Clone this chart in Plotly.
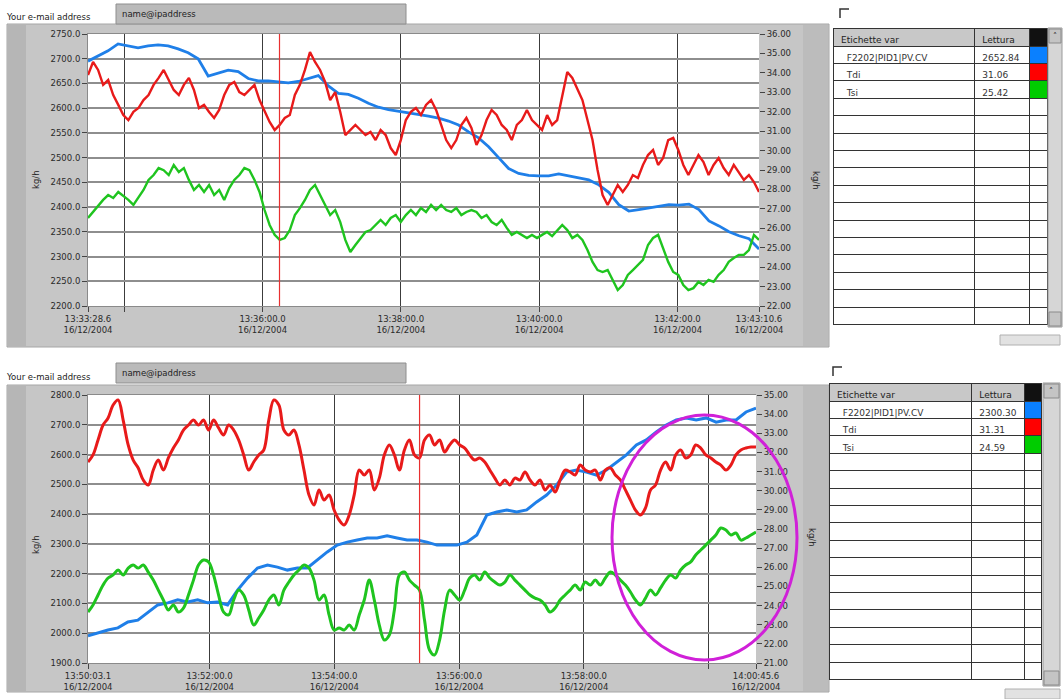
import plotly.graph_objects as go
import pandas as pd

# ---------------- data ----------------
DATE = "2004-12-16 "
TOP_START, TOP_END = DATE + "13:33:28.6", DATE + "13:43:10.6"
BOT_START, BOT_END = DATE + "13:50:03.1", DATE + "14:00:45.6"

top_tick_times = ["13:33:28.6", "13:34:00.0", "13:36:00.0", "13:38:00.0", "13:40:00.0", "13:42:00.0", "13:43:10.6"]
top_tick_labels = ["13:33:28.6", "", "13:36:00.0", "13:38:00.0", "13:40:00.0", "13:42:00.0", "13:43:10.6"]
bot_tick_times = ["13:50:03.1", "13:52:00.0", "13:54:00.0", "13:56:00.0", "13:58:00.0", "14:00:00.0", "14:00:45.6"]
bot_tick_labels = ["13:50:03.1", "13:52:00.0", "13:54:00.0", "13:56:00.0", "13:58:00.0", "", "14:00:45.6"]
date_label = "16/12/2004"

top_cursor = DATE + "13:36:14.7"
bot_cursor = DATE + "13:55:22.0"

# top graph: flow (left axis), temperatures (right axis)
top_flow = [2695, 2705, 2716, 2730, 2726, 2722, 2726, 2728, 2726, 2720, 2712, 2700,
            2665, 2671, 2677, 2674, 2660, 2655, 2655, 2653, 2651, 2654, 2660, 2666,
            2645, 2630, 2628, 2620, 2610, 2602, 2597, 2594, 2590, 2588, 2584, 2580,
            2574, 2566, 2552, 2540, 2522, 2500, 2478, 2468, 2464, 2463, 2463, 2467,
            2463, 2459, 2455, 2445, 2430, 2405, 2392, 2395, 2398, 2402, 2405, 2404,
            2406, 2395, 2372, 2362, 2350, 2342, 2336, 2315]
top_tdi = [33.89, 34.56, 34.15, 33.38, 33.63, 32.86, 32.35, 31.83, 31.57, 31.99, 32.19, 32.60,
           32.86, 33.38, 33.74, 34.15, 33.63, 33.12, 32.86, 33.38, 33.74, 33.12, 32.19, 32.35,
           31.99, 31.68, 32.09, 32.86, 33.38, 33.53, 33.01, 32.86, 33.12, 33.38, 32.60, 31.99,
           31.47, 31.06, 31.32, 31.68, 31.83, 32.86, 33.38, 34.15, 35.07, 34.56, 34.15, 33.53,
           32.60, 33.01, 31.99, 30.80, 31.06, 31.32, 31.06, 30.80, 30.96, 30.54, 31.06, 30.80,
           30.13, 29.77, 30.54, 31.57, 31.99, 32.19, 31.83, 32.35, 32.60, 32.09, 31.32, 30.54,
           30.13, 30.54, 31.32, 31.68, 31.16, 30.29, 30.80, 31.57, 32.09, 31.83, 31.32, 31.06,
           30.54, 31.32, 31.57, 32.09, 31.57, 31.32, 31.06, 31.83, 31.32, 31.57, 32.86, 34.04,
           33.74, 33.12, 32.60, 31.57, 30.54, 29.00, 27.71, 27.20, 27.71, 28.23, 27.87, 28.23,
           28.74, 28.59, 29.26, 29.77, 30.03, 29.26, 29.62, 30.54, 30.65, 30.03, 29.26, 28.74,
           29.26, 29.77, 29.41, 28.74, 29.26, 29.62, 29.10, 28.74, 29.26, 28.90, 28.49, 28.74,
           28.38, 27.87]
top_tsi = [26.53, 26.84, 27.20, 27.46, 27.71, 27.56, 27.87, 27.66, 27.46, 27.20, 27.56, 27.97,
           28.49, 28.74, 29.10, 28.99, 28.74, 29.26, 28.90, 29.10, 28.49, 27.97, 28.23, 27.87,
           28.23, 27.71, 27.97, 27.46, 28.07, 28.49, 28.74, 29.10, 28.99, 28.49, 27.87, 26.94,
           26.17, 25.66, 25.40, 25.50, 25.91, 26.68, 27.04, 27.46, 27.97, 28.23, 27.71, 27.20,
           26.68, 26.94, 26.32, 25.40, 24.78, 25.14, 25.50, 25.81, 25.91, 26.17, 26.43, 26.17,
           26.53, 26.68, 26.32, 26.68, 26.94, 26.68, 27.04, 26.84, 27.20, 26.94, 27.20, 26.94,
           26.84, 27.04, 26.68, 26.84, 26.94, 26.84, 26.53, 26.68, 26.32, 26.17, 26.43, 26.02,
           25.66, 25.81, 25.66, 25.50, 25.66, 25.50, 25.66, 25.81, 25.60, 25.91, 26.17, 25.91,
           25.50, 25.66, 25.40, 24.88, 24.27, 23.85, 23.75, 23.85, 23.34, 22.82, 23.08, 23.60,
           23.85, 24.11, 24.37, 25.14, 25.50, 25.66, 24.99, 24.27, 23.75, 23.60, 23.08, 22.82,
           22.92, 23.24, 23.08, 23.34, 23.24, 23.60, 23.85, 24.27, 24.47, 24.63, 24.63, 24.88,
           25.66, 25.40]

# bottom graph
bot_flow = [1991, 2001, 2011, 2018, 2038, 2044, 2071, 2095, 2102, 2112, 2105, 2112,
            2102, 2105, 2095, 2145, 2185, 2219, 2229, 2222, 2212, 2219, 2219, 2246,
            2273, 2296, 2306, 2313, 2320, 2320, 2327, 2320, 2313, 2313, 2306, 2296,
            2296, 2296, 2306, 2330, 2397, 2407, 2414, 2407, 2414, 2441, 2464, 2498,
            2541, 2548, 2541, 2531, 2548, 2575, 2599, 2632, 2649, 2676, 2699, 2716,
            2723, 2716, 2723, 2709, 2716, 2716, 2743, 2756]
bot_tdi = [31.50, 31.87, 32.65, 33.43, 33.80, 34.48, 34.74, 33.69, 32.39, 31.60, 31.19, 30.56,
           30.30, 31.08, 31.60, 31.08, 31.71, 32.23, 32.65, 33.17, 33.43, 33.69, 33.43, 33.69,
           33.17, 33.69, 33.28, 32.91, 33.43, 33.17, 32.65, 31.87, 31.08, 31.50, 31.87, 32.13,
           33.69, 34.74, 34.48, 33.17, 32.91, 33.17, 32.39, 31.08, 29.78, 29.25, 30.04, 29.51,
           29.78, 28.99, 28.47, 28.21, 28.73, 29.78, 31.08, 30.82, 31.08, 30.04, 30.66, 31.87,
           32.39, 31.87, 31.08, 32.13, 32.65, 31.87, 31.71, 32.65, 32.91, 32.39, 32.65, 32.02,
           32.39, 32.65, 32.39, 32.23, 31.87, 31.60, 31.71, 31.50, 31.08, 30.66, 30.30, 30.56,
           30.30, 30.66, 30.56, 30.98, 30.56, 30.30, 30.56, 30.04, 30.30, 29.93, 30.56, 31.08,
           30.98, 30.82, 31.34, 31.08, 30.98, 31.08, 30.56, 31.08, 31.19, 30.82, 30.56, 30.04,
           29.51, 28.99, 28.73, 29.10, 30.04, 30.30, 31.08, 31.50, 31.08, 31.87, 32.13, 31.71,
           31.87, 32.39, 32.23, 31.87, 31.71, 31.50, 31.34, 31.08, 31.34, 31.87, 32.13, 32.23,
           32.28, 32.28]
bot_tsi = [23.66, 24.03, 24.55, 25.07, 25.44, 25.60, 25.86, 25.60, 25.96, 26.12, 25.96, 26.12,
           25.75, 25.33, 24.81, 24.29, 23.77, 24.03, 23.66, 23.87, 24.55, 25.33, 26.12, 26.38,
           26.28, 25.60, 24.55, 23.66, 23.51, 24.29, 24.81, 24.55, 23.77, 22.98, 23.35, 23.77,
           24.29, 24.55, 24.03, 24.81, 25.23, 25.60, 25.86, 26.12, 25.96, 25.33, 24.29, 24.55,
           23.51, 22.72, 22.83, 22.72, 22.98, 22.72, 23.51, 24.29, 25.33, 24.29, 22.98, 22.20,
           22.46, 23.77, 25.60, 25.75, 25.33, 25.07, 24.81, 23.24, 21.68, 21.42, 22.20, 23.77,
           24.81, 24.55, 24.29, 24.81, 25.44, 25.60, 25.33, 25.75, 25.44, 25.23, 25.07, 25.23,
           25.60, 25.33, 25.07, 24.81, 24.55, 24.39, 24.29, 24.03, 23.66, 23.87, 24.29, 24.55,
           24.81, 25.07, 24.81, 25.23, 25.07, 25.33, 25.07, 25.44, 25.75, 25.60, 25.33, 25.07,
           24.71, 24.29, 24.03, 24.39, 24.81, 24.55, 24.92, 25.33, 25.60, 25.44, 25.86, 26.12,
           26.28, 26.64, 26.90, 27.16, 27.42, 27.69, 28.05, 27.95, 27.69, 27.79, 27.42, 27.53,
           27.69, 27.84]

series_names = ["F2202|PID1|PV.CV", "Tdi", "Tsi"]
top_readings = ["2652.84", "31.06", "25.42"]
bot_readings = ["2300.30", "31.31", "24.59"]
series_colors = ["#1f7fe8", "#e81a1a", "#1fc41f"]
swatch_colors = ["#0a80ff", "#ff0000", "#00cc00"]

# ---------------- helpers ----------------
W, H = 1064, 699
def px(x): return x / W
def py(y): return 1 - y / H
def tms(start, end, n): return pd.date_range(pd.Timestamp(start), pd.Timestamp(end), periods=n)

FONT = "DejaVu Sans"
fig = go.Figure()

# top traces
fig.add_trace(go.Scatter(x=tms(TOP_START, TOP_END, len(top_flow)), y=top_flow, mode="lines",
                         line=dict(color=series_colors[0], width=2.8), xaxis="x", yaxis="y"))
fig.add_trace(go.Scatter(x=tms(TOP_START, TOP_END, len(top_tdi)), y=top_tdi, mode="lines",
                         line=dict(color=series_colors[1], width=2.4), xaxis="x", yaxis="y2"))
fig.add_trace(go.Scatter(x=tms(TOP_START, TOP_END, len(top_tsi)), y=top_tsi, mode="lines",
                         line=dict(color=series_colors[2], width=2.4), xaxis="x", yaxis="y2"))
# bottom traces
fig.add_trace(go.Scatter(x=tms(BOT_START, BOT_END, len(bot_flow)), y=bot_flow, mode="lines",
                         line=dict(color=series_colors[0], width=3), xaxis="x2", yaxis="y3"))
fig.add_trace(go.Scatter(x=tms(BOT_START, BOT_END, len(bot_tdi)), y=bot_tdi, mode="lines",
                         line=dict(color=series_colors[1], width=3, shape="spline"), xaxis="x2", yaxis="y4"))
fig.add_trace(go.Scatter(x=tms(BOT_START, BOT_END, len(bot_tsi)), y=bot_tsi, mode="lines",
                         line=dict(color=series_colors[2], width=3, shape="spline"), xaxis="x2", yaxis="y4"))

# tables
def add_table(x0, x1, y0, y1, readings, widths):
    nrows = 16
    col1 = ["  " + s for s in series_names] + [""] * (nrows - 3)
    col2 = readings + [""] * (nrows - 3)
    col3 = [""] * nrows
    fills = [["white"] * nrows, ["white"] * nrows, swatch_colors + ["white"] * (nrows - 3)]
    fig.add_trace(go.Table(
        domain=dict(x=[px(x0), px(x1)], y=[py(y1), py(y0)]),
        columnwidth=widths,
        header=dict(values=["Etichette var", "Lettura", ""], height=18,
                    fill_color=["#c8c8c8", "#c8c8c8", "#111111"],
                    line=dict(color="#333333", width=1), align="left",
                    font=dict(family=FONT, size=9, color="#222")),
        cells=dict(values=[col1, col2, col3], height=17.4, fill_color=fills,
                   line=dict(color="#333333", width=1), align="left",
                   font=dict(family=FONT, size=9, color="#333"))))

add_table(833, 1048, 28, 327, top_readings, [142, 55, 18])
add_table(829, 1043, 383, 686, bot_readings, [143, 53, 18])

shapes = []
def rect(x0, y0, x1, y1, fill, line=None, lw=0, layer="below"):
    shapes.append(dict(type="rect", xref="paper", yref="paper", x0=px(x0), x1=px(x1), y0=py(y1), y1=py(y0),
                       fillcolor=fill, line=dict(color=line or fill, width=lw), layer=layer))

# graph panels
for (top, bot, pl, pt, pr, pb) in [(24, 347, 88, 33, 759, 306), (385, 692, 88, 395, 756, 663)]:
    rect(7, top, 829, bot, "#c6c6c6", "#a6a6a6", 1)
    rect(8, top + 1, 26, bot - 1, "#b6b6b6")
    rect(803, top + 1, 828, bot - 1, "#bcbcbc")
    rect(pl, pt, pr, pb, "#ffffff")

# e-mail fields
for y in (4, 363):
    rect(116, y, 406, y + 20, "#bababa", "#8e8e8e", 1)

# scrollbars next to tables
for (x0, y0, x1, y1) in [(1048, 28, 1062, 327), (1043, 383, 1060, 686)]:
    rect(x0, y0, x1, y1, "#d6d6d6", "#9a9a9a", 1, layer="above")
    rect(x0 + 1, y0 + 1, x1 - 1, y0 + 15, "#c4c4c4", "#8a8a8a", 1, layer="above")
    rect(x0 + 1, y1 - 15, x1 - 1, y1 - 1, "#c4c4c4", "#8a8a8a", 1, layer="above")
# small horizontal scrollbars below tables
rect(1000, 335, 1060, 345, "#e2e2e2", "#b0b0b0", 1)
rect(1005, 689, 1060, 699, "#e2e2e2", "#b0b0b0", 1)

# checkboxes
for (cx, cy) in [(840, 9), (833, 367)]:
    shapes.append(dict(type="path", xref="paper", yref="paper",
                       path=f"M {px(cx)},{py(cy+9)} L {px(cx)},{py(cy)} L {px(cx+9)},{py(cy)}",
                       line=dict(color="#333", width=1.5)))

# cursors
shapes.append(dict(type="line", xref="x", yref="y domain", x0=top_cursor, x1=top_cursor, y0=0, y1=1,
                   line=dict(color="#e83030", width=1.2)))
shapes.append(dict(type="line", xref="x2", yref="y3 domain", x0=bot_cursor, x1=bot_cursor, y0=0, y1=1,
                   line=dict(color="#e83030", width=1.2)))

# magenta ellipse annotation
shapes.append(dict(type="circle", xref="paper", yref="paper", x0=px(612), x1=px(797), y0=py(660), y1=py(415),
                   line=dict(color="#d020d8", width=3)))

annotations = []
def text(x, y, s, size=9, angle=0, xanchor="left", color="#222"):
    annotations.append(dict(x=px(x), y=py(y), xref="paper", yref="paper", text=s, showarrow=False,
                            xanchor=xanchor, yanchor="middle", textangle=angle,
                            font=dict(family=FONT, size=size, color=color)))

text(4, 17, "Your e-mail address", 8.5)
text(120, 14, "name@ipaddress", 8.5)
text(4, 377, "Your e-mail address", 8.5)
text(120, 373, "name@ipaddress", 8.5)
text(36, 180, "kg/h", 8.5, -90, "center")
text(816, 180, "kg/h", 8.5, 90, "center")
text(36, 545, "kg/h", 8.5, -90, "center")
text(812, 537, "kg/h", 8.5, 90, "center")
text(1055, 36, "˄", 8, 0, "center")
text(1051, 391, "˄", 8, 0, "center")

tickfont = dict(family=FONT, size=8.5, color="#2a2a2a")

def xax(domain, anchor, start, end, times, labels):
    return dict(domain=[px(domain[0]), px(domain[1])], anchor=anchor, type="date",
                range=[start, end], tickmode="array",
                tickvals=[DATE + t for t in times],
                ticktext=[(l + "<br>" + date_label) if l else "" for l in labels],
                showgrid=True, gridcolor="#3c3c3c", gridwidth=1, ticks="outside", ticklen=5,
                tickcolor="#444", tickfont=tickfont, showline=True, linecolor="#8a8a8a",
                mirror=True, zeroline=False, tickangle=0, automargin=False)

fig.update_layout(
    width=W, height=H, margin=dict(l=0, r=0, t=0, b=0, pad=0, autoexpand=False),
    paper_bgcolor="white", plot_bgcolor="white", showlegend=False,
    xaxis=xax((88, 759), "y", TOP_START, TOP_END, top_tick_times, top_tick_labels),
    xaxis2=xax((88, 756), "y3", BOT_START, BOT_END, bot_tick_times, bot_tick_labels),
    yaxis=dict(domain=[py(306), py(34)], anchor="x", range=[2200, 2750], dtick=50, tick0=2200,
               tickformat=".1f", showgrid=True, gridcolor="#8e8e8e", gridwidth=2, ticks="outside",
               ticklen=5, tickcolor="#444", tickfont=tickfont, zeroline=False,
               showline=True, linecolor="#8a8a8a", automargin=False),
    yaxis2=dict(overlaying="y", side="right", anchor="x", range=[22, 36], dtick=1, tick0=22,
                tickformat=".2f", showgrid=False, ticks="outside", ticklen=5, tickcolor="#444",
                tickfont=tickfont, zeroline=False, automargin=False),
    yaxis3=dict(domain=[py(663), py(395)], anchor="x2", range=[1900, 2800], dtick=100, tick0=1900,
                tickformat=".1f", showgrid=True, gridcolor="#8e8e8e", gridwidth=2, ticks="outside",
                ticklen=5, tickcolor="#444", tickfont=tickfont, zeroline=False,
                showline=True, linecolor="#8a8a8a", automargin=False),
    yaxis4=dict(overlaying="y3", side="right", anchor="x2", range=[21, 35], dtick=1, tick0=21,
                tickformat=".2f", showgrid=False, ticks="outside", ticklen=5, tickcolor="#444",
                tickfont=tickfont, zeroline=False, automargin=False),
    shapes=shapes, annotations=annotations,
)

fig.write_html("out.html", config={"displayModeBar": False},
               post_script="document.body.style.margin='0';document.body.style.overflow='hidden';")
